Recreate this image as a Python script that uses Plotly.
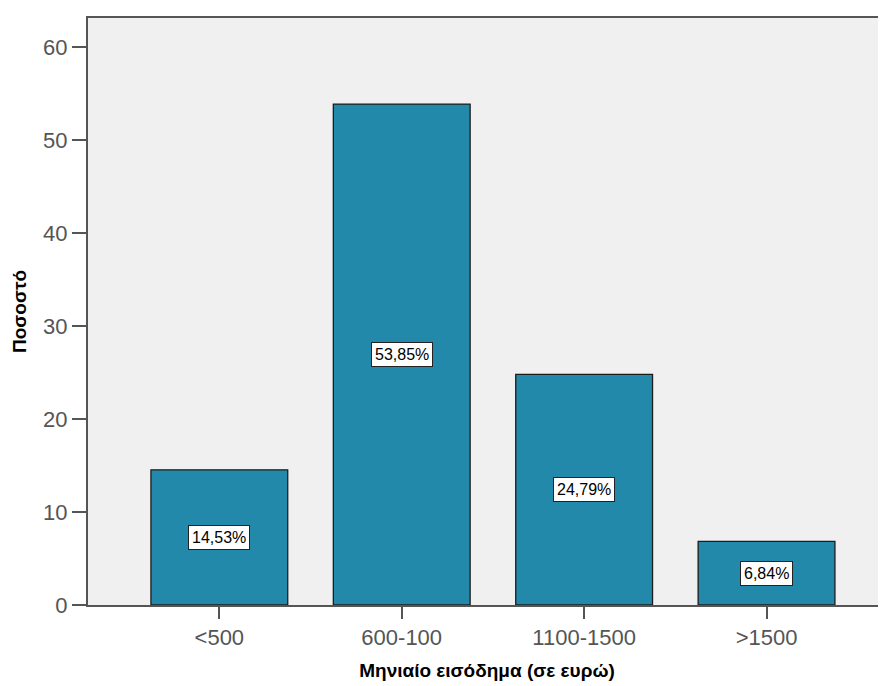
import plotly.graph_objects as go

categories = ["<500", "600-100", "1100-1500", ">1500"]
values = [14.53, 53.85, 24.79, 6.84]
labels = ["14,53%", "53,85%", "24,79%", "6,84%"]
y_ticks = [0, 10, 20, 30, 40, 50, 60]

FONT = "Liberation Sans, Arial, sans-serif"
x_idx = list(range(len(categories)))

fig = go.Figure()
fig.add_trace(go.Bar(
    x=x_idx, y=values, width=0.75,
    marker=dict(color="#2389AA", line=dict(color="#1c1c1c", width=1.3)),
    hoverinfo="skip",
))

for xi, v, lab in zip(x_idx, values, labels):
    fig.add_annotation(
        x=xi, y=v / 2, text=lab, showarrow=False,
        font=dict(family=FONT, size=16, color="#000000"),
        bgcolor="#FFFFFF", bordercolor="#222222", borderwidth=1, borderpad=3,
    )

fig.update_layout(
    width=878, height=678,
    margin=dict(l=80, r=0, t=10, b=81),
    paper_bgcolor="#FFFFFF", plot_bgcolor="#F0F0F0",
    showlegend=False,
    font=dict(family=FONT),
)
fig.update_xaxes(
    range=[-0.72, 3.655],
    tickmode="array", tickvals=x_idx, ticktext=categories,
    tickfont=dict(family=FONT, size=22, color="#555555"),
    ticks="outside", ticklen=12, tickwidth=2, tickcolor="#555555",
    showline=True, linecolor="#555555", linewidth=2, mirror=True,
    showgrid=False, zeroline=False, automargin=False,
    title=dict(text="<b>Μηνιαίο εισόδημα (σε ευρώ)</b>",
               font=dict(family=FONT, size=19, color="#000000"), standoff=14),
)
fig.update_yaxes(
    range=[0, 63.1],
    tickmode="array", tickvals=y_ticks,
    tickfont=dict(family=FONT, size=22, color="#555555"),
    ticks="outside", ticklen=14, tickwidth=2, tickcolor="#555555",
    showline=True, linecolor="#555555", linewidth=2, mirror=False,
    showgrid=False, zeroline=False, automargin=False,
    title=dict(text="<b>Ποσοστό</b>",
               font=dict(family=FONT, size=19, color="#000000"), standoff=11),
)

fig.write_html("out.html")
